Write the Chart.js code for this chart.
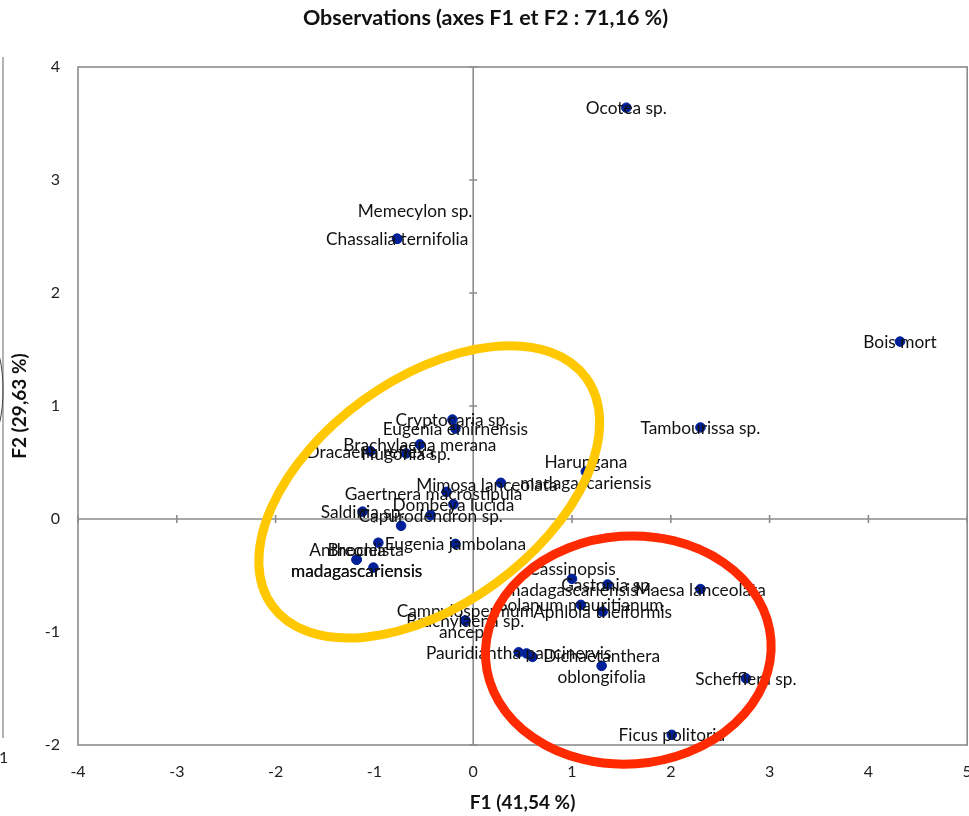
<!DOCTYPE html>
<html>
<head>
<meta charset="utf-8">
<script src="https://cdn.jsdelivr.net/npm/chart.js@4.4.1/dist/chart.umd.min.js"></script>
<style>
  html, body { margin: 0; padding: 0; background: #fff; overflow: hidden; width: 969px; height: 816px; }
  #myChart { display: block; }
</style>
</head>
<body>
<!-- canvas a little wider than the window: the last tick label is cut off at the edge as in the original -->
<canvas id="myChart" width="973" height="816"></canvas>
<script>
// observation labels (\n = line break as in the original labels)
const species = [
  "Ocotea sp.", "Chassalia ternifolia", "Memecylon sp.", "Bois mort", "Tambourissa sp.",
  "Harungana\nmadagascariensis", "Mimosa lanceolata", "Cryptocaria sp.", "Eugenia emirnensis",
  "Brachylaena merana", "Dracaena reflexa", "Hugonia sp.", "Gaertnera macrostipula",
  "Dombeya lucida", "Saldinia sp.", "Capurodendron sp.", "", "", "Eugenia jambolana",
  "Anthocleista\nmadagascariensis", "Breonia\nmadagascariensis", "",
  "Campylospermum\nanceps", "Brachylaena sp.",
  "Cassinopsis\nmadagascariensis", "Gastonia sp.", "Maesa lanceolata", "Solanum mauritianum",
  "Aphloia theiformis", "Pauridiantha paucinervis", "", "", "Dichaetanthera\noblongifolia",
  "Schefflera sp.", "Ficus politoria"
];
const f1 = [
  1.55, -0.77, -0.77, 4.32, 2.30,
  1.14, 0.28, -0.21, -0.18,
  -0.54, -1.04, -0.68, -0.27,
  -0.20, -1.12, -0.43, -0.73, -0.96, -0.18,
  -1.18, -1.18, -1.01,
  -0.08, -0.08,
  1.00, 1.36, 2.30, 1.09,
  1.31, 0.46, 0.54, 0.60, 1.30,
  2.76, 2.01
];
const f2 = [
  3.64, 2.48, 2.48, 1.57, 0.81,
  0.42, 0.32, 0.88, 0.80,
  0.66, 0.60, 0.58, 0.24,
  0.13, 0.065, 0.035, -0.06, -0.21, -0.22,
  -0.36, -0.36, -0.43,
  -0.90, -0.90,
  -0.53, -0.58, -0.62, -0.76,
  -0.82, -1.18, -1.19, -1.22, -1.30,
  -1.41, -1.91
];

const chartTitle = "Observations (axes F1 et F2 : 71,16 %)";
const xTitle = "F1 (41,54 %)";
const yTitle = "F2 (29,63 %)";

// label nudges in px (where the original label was moved off its point)
const labelNudge = {
  "Memecylon sp.": [18, -28],
  "Mimosa lanceolata": [-14, 2],
  "Gaertnera macrostipula": [-13, 2]
};

const FONT = "Lato, 'Open Sans', sans-serif";

const points = f1.map((x, i) => ({ x: x, y: f2[i] }));

const frame = {
  id: 'frame',
  beforeDatasetsDraw(chart) {
    const { ctx, chartArea: a, scales: { x, y } } = chart;
    ctx.save();
    ctx.strokeStyle = '#8c8c8c';
    ctx.lineWidth = 1.6;
    ctx.strokeRect(a.left, a.top, a.right - a.left, a.bottom - a.top);
    // zero axes
    const x0 = x.getPixelForValue(0), y0 = y.getPixelForValue(0);
    ctx.beginPath();
    ctx.moveTo(a.left, y0); ctx.lineTo(a.right, y0);
    ctx.moveTo(x0, a.top); ctx.lineTo(x0, a.bottom);
    // small tick crosses
    x.ticks.forEach(t => {
      const px = x.getPixelForValue(t.value);
      ctx.moveTo(px, y0 - 4); ctx.lineTo(px, y0 + 4);
    });
    y.ticks.forEach(t => {
      const py = y.getPixelForValue(t.value);
      ctx.moveTo(x0 - 4, py); ctx.lineTo(x0 + 4, py);
    });
    ctx.stroke();
    // remains of a neighbouring figure at the left edge
    ctx.strokeStyle = '#9a9a9a';
    ctx.lineWidth = 1.5;
    ctx.beginPath();
    ctx.moveTo(3, 57); ctx.lineTo(3, 738);
    ctx.stroke();
    ctx.strokeStyle = '#444';
    ctx.lineWidth = 1;
    ctx.beginPath();
    ctx.ellipse(-8, 390, 11, 45, 0, -Math.PI / 2, Math.PI / 2);
    ctx.stroke();
    ctx.fillStyle = '#222';
    ctx.font = "16px " + FONT;
    ctx.textAlign = 'left';
    ctx.textBaseline = 'middle';
    ctx.fillText('1', -1, 758);
    ctx.restore();
  }
};

const pointLabels = {
  id: 'pointLabels',
  afterDatasetsDraw(chart) {
    const { ctx } = chart;
    const meta = chart.getDatasetMeta(0);
    ctx.save();
    ctx.fillStyle = '#111';
    ctx.font = "17.3px " + FONT;
    ctx.textAlign = 'center';
    ctx.textBaseline = 'middle';
    meta.data.forEach((el, i) => {
      const txt = species[i];
      if (!txt) return;
      const nudge = labelNudge[txt] || [0, 0];
      const lines = txt.split('\n');
      const lh = 21;
      const y0 = el.y + nudge[1] - (lines.length - 1) * lh / 2 + 1;
      lines.forEach((ln, k) => ctx.fillText(ln, el.x + nudge[0], y0 + k * lh));
    });
    ctx.restore();
  }
};

const groups = {
  id: 'groups',
  afterDraw(chart) {
    const { ctx, scales: { x, y } } = chart;
    ctx.save();
    ctx.lineWidth = 9;
    // yellow group
    ctx.strokeStyle = '#ffc800';
    ctx.beginPath();
    ctx.ellipse(x.getPixelForValue(-0.445), y.getPixelForValue(0.24), 194, 113, -36 * Math.PI / 180, 0, 2 * Math.PI);
    ctx.stroke();
    // red group
    ctx.strokeStyle = '#ff2a00';
    ctx.beginPath();
    ctx.ellipse(x.getPixelForValue(1.57), y.getPixelForValue(-1.16), 143, 114, -4 * Math.PI / 180, 0, 2 * Math.PI);
    ctx.stroke();
    ctx.restore();
  }
};

const ctx = document.getElementById("myChart").getContext('2d');

const config = {
  type: 'scatter',
  data: {
    datasets: [{
      label: 'Observations',
      data: points,
      backgroundColor: '#00209a',
      borderColor: '#00209a',
      pointRadius: 4.8,
      pointHoverRadius: 4.8
    }]
  },
  options: {
    responsive: false,
    animation: false,
    devicePixelRatio: 1,
    layout: { padding: { left: 0, right: 2, top: 0, bottom: 0 } },
    plugins: {
      legend: { display: false },
      tooltip: { enabled: false },
      title: {
        display: true,
        text: chartTitle,
        color: '#111',
        font: { family: FONT, size: 21.5, weight: 'bold' },
        padding: { top: 5, bottom: 36.2 }
      }
    },
    scales: {
      x: {
        type: 'linear',
        min: -4, max: 5,
        grid: { display: false, drawTicks: false },
        border: { display: false },
        ticks: { stepSize: 1, padding: 17, color: '#222', font: { family: FONT, size: 16 } },
        title: { display: true, text: xTitle, color: '#111', padding: { top: 0, bottom: 1.6 }, font: { family: FONT, size: 19, weight: 'bold' } },
        afterFit(s) { s.height = 71; s.paddingLeft = 0; s.paddingRight = 0; }
      },
      y: {
        type: 'linear',
        min: -2, max: 4,
        grid: { display: false, drawTicks: false },
        border: { display: false },
        ticks: { stepSize: 1, padding: 18, color: '#222', font: { family: FONT, size: 16 } },
        title: { display: true, text: yTitle, color: '#111', padding: { top: 8.6, bottom: 0 }, font: { family: FONT, size: 19, weight: 'bold' } },
        afterFit(s) { s.width = 78; s.paddingTop = 0; s.paddingBottom = 0; }
      }
    }
  },
  plugins: [frame, pointLabels, groups]
};

var myChart = new Chart(ctx, config);
</script>
</body>
</html>
